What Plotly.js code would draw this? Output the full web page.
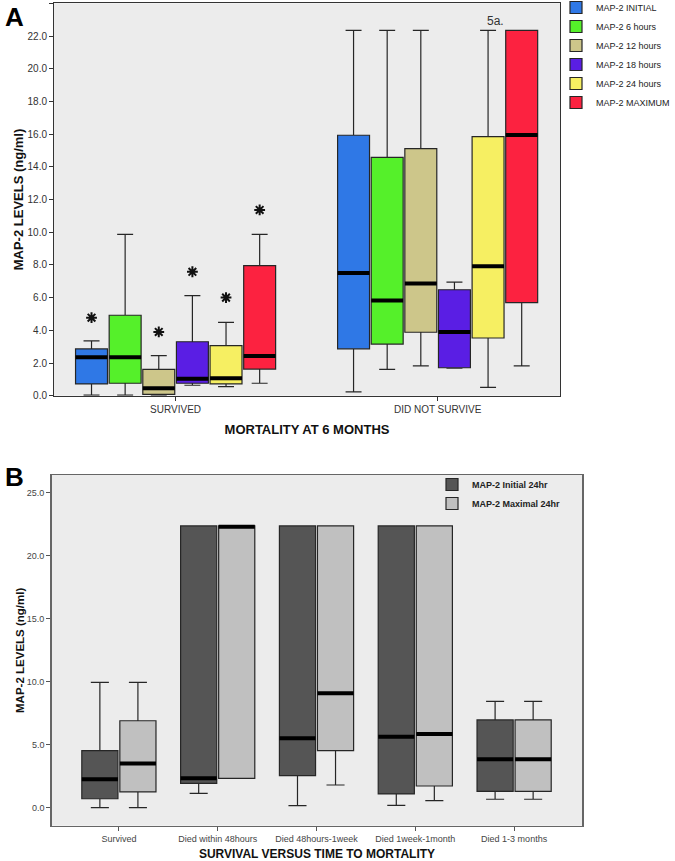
<!DOCTYPE html>
<html>
<head>
<meta charset="utf-8">
<script src="https://cdn.plot.ly/plotly-3.0.1.min.js"></script>
<style>html,body{margin:0;padding:0;background:#fff}#chart{width:675px;height:861px}</style>
</head>
<body>
<div id="chart"></div>
<script>
// ---------- Panel A data ----------
const catsA = ['SURVIVED', 'DID NOT SURVIVE'];
const seriesA = ['MAP-2 INITIAL', 'MAP-2 6 hours', 'MAP-2 12 hours', 'MAP-2 18 hours', 'MAP-2 24 hours', 'MAP-2 MAXIMUM'];
// per series: [SURVIVED, DID NOT SURVIVE]
const lowA  = [[0.04, 0.23], [0.04, 1.61], [0.04, 1.82], [0.64, 1.68], [0.55, 0.51], [0.76, 1.82]];
const q1A   = [[0.72, 2.87], [0.76, 3.16], [0.08, 3.88], [0.76, 1.71], [0.72, 3.53], [1.63, 5.69]];
const medA  = [[2.35, 7.50], [2.35, 5.83], [0.45, 6.87], [1.03, 3.90], [1.06, 7.91], [2.43, 15.95]];
const q3A   = [[2.86, 15.93], [4.92, 14.58], [1.61, 15.11], [3.30, 6.48], [3.06, 15.84], [7.95, 22.35]];
const highA = [[3.35, 22.35], [9.87, 22.35], [2.45, 22.35], [6.12, 6.95], [4.49, 22.35], [9.87, 22.35]];
// extreme values (asterisks) in the SURVIVED group, per series
const extremesA = [4.77, null, 3.90, 7.58, 6.00, 11.36];
const caseLabelA = '5a.';
const caseLabelValue = 22.35;

// ---------- Panel B data ----------
const catsB = ['Survived', 'Died within 48hours', 'Died 48hours-1week', 'Died 1week-1month', 'Died 1-3 months'];
const seriesB = ['MAP-2 Initial 24hr', 'MAP-2 Maximal 24hr'];
const lowB  = [[0.00, 1.14, 0.16, 0.19, 0.67], [0.00, 2.33, 1.80, 0.56, 0.67]];
const q1B   = [[0.71, 1.93, 2.54, 1.09, 1.30], [1.25, 2.33, 4.52, 1.72, 1.30]];
const medB  = [[2.25, 2.33, 5.50, 5.63, 3.84], [3.50, 22.30, 9.08, 5.85, 3.84]];
const q3B   = [[4.52, 22.36, 22.36, 22.36, 6.96], [6.90, 22.36, 22.36, 22.36, 6.96]];
const highB = [[9.95, 22.36, 22.36, 22.36, 8.44], [9.95, 22.36, 22.36, 22.36, 8.44]];

// ---------- styles ----------
const FONT = 'Liberation Sans, Arial, sans-serif';
const colorsA = ['#2f78e6', '#55f02a', '#cdc68a', '#5a1ee4', '#f6ef62', '#fc2240'];
const colorsB = ['#555555', '#c0c0c0'];

const traces = [];

function addBoxes(cats, names, low, q1, med, q3, high, colors, xa, ya, legendName, group) {
  names.forEach((name, i) => {
    traces.push({
      type: 'box', name: name, x: cats,
      lowerfence: low[i], q1: q1[i], median: med[i], q3: q3[i], upperfence: high[i],
      xaxis: xa, yaxis: ya, legend: legendName,
      offsetgroup: group + i, alignmentgroup: group,
      fillcolor: colors[i], line: {color: '#262626', width: 1.2},
      whiskerwidth: 0.5, boxpoints: false, hoverinfo: 'skip'
    });
  });
  // thick median bars drawn as flat boxes on top
  names.forEach((name, i) => {
    traces.push({
      type: 'box', name: name + ' median', x: cats,
      lowerfence: med[i], q1: med[i], median: med[i], q3: med[i], upperfence: med[i],
      xaxis: xa, yaxis: ya, showlegend: false,
      offsetgroup: group + i, alignmentgroup: group,
      fillcolor: 'rgba(0,0,0,0)', line: {color: '#000000', width: 4},
      whiskerwidth: 0, boxpoints: false, hoverinfo: 'skip'
    });
  });
}

addBoxes(catsA, seriesA, lowA, q1A, medA, q3A, highA, colorsA, 'x', 'y', 'legend', 'A');
addBoxes(catsB, seriesB, lowB, q1B, medB, q3B, highB, colorsB, 'x2', 'y2', 'legend2', 'B');

// asterisks for extreme values
extremesA.forEach((v, i) => {
  if (v === null) return;
  traces.push({
    type: 'box', name: seriesA[i] + ' extreme', x: [catsA[0]], y: [v],
    xaxis: 'x', yaxis: 'y', showlegend: false,
    offsetgroup: 'A' + i, alignmentgroup: 'A',
    boxpoints: 'all', jitter: 0, pointpos: 0,
    fillcolor: 'rgba(0,0,0,0)', line: {color: 'rgba(0,0,0,0)', width: 0},
    marker: {symbol: 'asterisk-open', size: 9, color: '#111', line: {color: '#111', width: 2}},
    hoverinfo: 'skip'
  });
});

const axisCommon = {
  showgrid: false, zeroline: false, showline: true, mirror: true,
  ticks: 'outside', ticklen: 4, tickwidth: 1
};

const layout = {
  width: 675, height: 861,
  margin: {l: 0, r: 0, t: 0, b: 0, autoexpand: false},
  paper_bgcolor: '#ffffff', plot_bgcolor: '#ececec',
  font: {family: FONT, color: '#222'},
  boxmode: 'group', boxgap: 0.23, boxgroupgap: 0.05,
  xaxis: Object.assign({}, axisCommon, {
    domain: [54 / 675, 560 / 675], anchor: 'y', type: 'category',
    range: [-0.464, 1.467], linecolor: '#333', linewidth: 1, tickcolor: '#333',
    tickfont: {size: 10, color: '#333', family: FONT},
    title: {text: 'MORTALITY AT 6 MONTHS', standoff: 11, font: {size: 13, weight: 'bold', color: '#111', family: FONT}}
  }),
  yaxis: Object.assign({}, axisCommon, {
    domain: [1 - 395.7 / 861, 1 - 3.3 / 861], anchor: 'x',
    range: [0, 24], dtick: 2, tickformat: '.1f', linecolor: '#333', linewidth: 1, tickcolor: '#333',
    tickfont: {size: 10, color: '#333', family: FONT},
    title: {text: 'MAP-2 LEVELS (ng/ml)', standoff: 0, font: {size: 13, weight: 'bold', color: '#111', family: FONT}}
  }),
  xaxis2: Object.assign({}, axisCommon, {
    domain: [51.7 / 675, 582.3 / 675], anchor: 'y2', type: 'category',
    range: [-0.68, 4.69], linecolor: '#666', linewidth: 1.5, tickcolor: '#555',
    tickfont: {size: 9, color: '#444', family: FONT},
    title: {text: 'SURVIVAL VERSUS TIME TO MORTALITY', standoff: 11, font: {size: 12, weight: 'bold', color: '#111', family: FONT}}
  }),
  yaxis2: Object.assign({}, axisCommon, {
    domain: [1 - 825.7 / 861, 1 - 475 / 861], anchor: 'x2',
    range: [-1.43, 26.4], dtick: 5, tick0: 0, tickformat: '.1f', linecolor: '#666', linewidth: 1.5, tickcolor: '#555',
    tickfont: {size: 9, color: '#444', family: FONT},
    title: {text: 'MAP-2 LEVELS (ng/ml)', standoff: 0, font: {size: 11.5, weight: 'bold', color: '#111', family: FONT}}
  }),
  legend: {
    x: 556 / 675, y: 1 + 7 / 861, xanchor: 'left', yanchor: 'top',
    bgcolor: 'rgba(0,0,0,0)', font: {size: 9, color: '#222', family: FONT},
    tracegroupgap: 0, itemclick: false
  },
  legend2: {
    x: 432 / 675, y: 1 - 470 / 861, xanchor: 'left', yanchor: 'top',
    bgcolor: 'rgba(0,0,0,0)', font: {size: 9, color: '#222', family: FONT, weight: 'bold'},
    tracegroupgap: 0, itemclick: false
  },
  annotations: [
    {text: 'A', xref: 'paper', yref: 'paper', x: 0.004, y: 1, xanchor: 'left', yanchor: 'top',
     showarrow: false, font: {size: 26, weight: 'bold', color: '#000', family: FONT}},
    {text: 'B', xref: 'paper', yref: 'paper', x: 0.004, y: 1 - 460 / 861, xanchor: 'left', yanchor: 'top',
     showarrow: false, font: {size: 26, weight: 'bold', color: '#000', family: FONT}},
    {text: caseLabelA, xref: 'x', yref: 'y', x: catsA[1], y: caseLabelValue, xshift: 58, yanchor: 'bottom',
     showarrow: false, font: {size: 12, color: '#333', family: FONT}}
  ]
};

Plotly.newPlot('chart', traces, layout, {staticPlot: true});
</script>
</body>
</html>
